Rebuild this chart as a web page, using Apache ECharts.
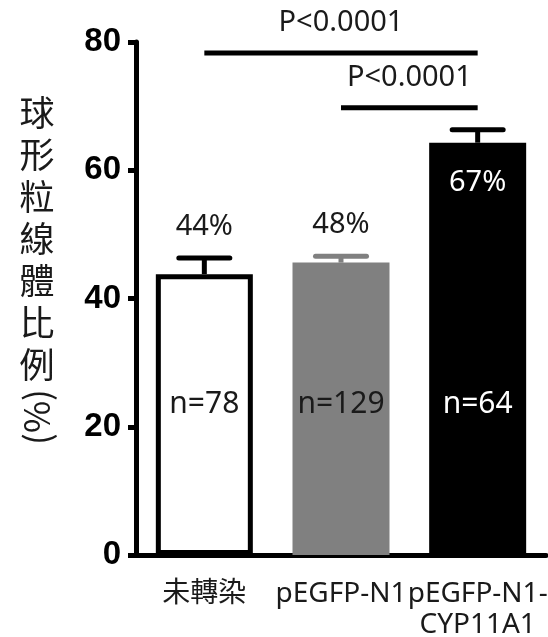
<!DOCTYPE html>
<html>
<head>
<meta charset="utf-8">
<script src="https://cdn.jsdelivr.net/npm/echarts@6/dist/echarts.min.js"></script>
<style>
  html, body { margin: 0; padding: 0; background: #fff; }
  #main { width: 548px; height: 637px; }
</style>
</head>
<body>
<div id="main"></div>
<script>
var categories = ['未轉染', 'pEGFP-N1', 'pEGFP-N1-\nCYP11A1'];
var means = [43.8, 45.6, 64.3];
var errors = [2.5, 1.0, 2.0];
var pctLabels = ['44%', '48%', '67%'];
var nLabels = ['n=78', 'n=129', 'n=64'];
// significance brackets: [from category, to category, height]
var brackets = [[0, 2, 78.3], [1, 2, 69.75]];
var pLabels = ['P<0.0001', 'P<0.0001'];

var latin = '"Noto Sans", "Noto Sans CJK TC", sans-serif';
var barColors = ['#ffffff', '#808080', '#000000'];
var errColors = ['#000000', '#808080', '#000000'];
var maxMean = Math.max.apply(null, means);

var chart = echarts.init(document.getElementById('main'));

var option = {
    animation: false,
    backgroundColor: '#fff',
    grid: {
        left: 136,
        right: 2,
        top: 42,
        bottom: 82,
        outerBoundsMode: 'none'
    },
    graphic: [
        {
            type: 'text',
            x: 37,
            y: 92,
            style: {
                text: '球\n形\n粒\n線\n體\n比\n例',
                font: '35px "Noto Sans CJK TC"',
                lineHeight: 42,
                align: 'center',
                fill: '#1a1a1a'
            }
        },
        {
            type: 'text',
            x: 37,
            y: 417,
            rotation: Math.PI / 2,
            style: {
                text: '(%)',
                font: '35px "Noto Sans CJK TC"',
                align: 'center',
                verticalAlign: 'middle',
                fill: '#1a1a1a'
            }
        }
    ],
    xAxis: {
        type: 'category',
        data: categories,
        axisLine: {lineStyle: {color: '#000', width: 5}},
        axisTick: {
            alignWithLabel: true,
            length: 9,
            lineStyle: {color: '#000', width: 4}
        },
        axisLabel: {
            interval: 0,
            margin: 24,
            fontSize: 28,
            lineHeight: 31,
            color: '#1a1a1a',
            fontFamily: latin
        }
    },
    yAxis: {
        type: 'value',
        min: 0,
        max: 80,
        interval: 20,
        axisLine: {show: true, lineStyle: {color: '#000', width: 5}},
        axisTick: {show: true, length: 8, lineStyle: {color: '#000', width: 5}},
        splitLine: {show: false},
        axisLabel: {
            margin: 15,
            fontSize: 33,
            fontWeight: 'bold',
            color: '#000',
            fontFamily: '"Liberation Sans", Arial, sans-serif'
        }
    },
    series: [
        {
            type: 'bar',
            barWidth: 97,
            data: means.map(function (v, i) {
                return {
                    value: v,
                    itemStyle: i === 0
                        ? {color: barColors[i], borderColor: '#000', borderWidth: 5}
                        : {color: barColors[i]},
                    label: {color: i === 2 ? '#fff' : '#1a1a1a'}
                };
            }),
            label: {
                show: true,
                position: 'insideBottom',
                distance: 136,
                fontSize: 30,
                fontFamily: latin,
                formatter: function (p) { return nLabels[p.dataIndex]; }
            }
        },
        {
            // error bars + percentage labels
            type: 'custom',
            data: means.map(function (v, i) { return [i, v, v + errors[i]]; }),
            renderItem: function (params, api) {
                var i = api.value(0);
                var base = api.coord([i, api.value(1)]);
                var top = api.coord([i, api.value(2)]);
                var col = errColors[i];
                var inside = api.value(1) === maxMean;
                return {
                    type: 'group',
                    children: [
                        {
                            type: 'line',
                            shape: {x1: base[0], y1: base[1], x2: top[0], y2: top[1]},
                            style: {stroke: col, lineWidth: 5}
                        },
                        {
                            type: 'line',
                            shape: {x1: top[0] - 25.5, y1: top[1], x2: top[0] + 25.5, y2: top[1]},
                            style: {stroke: col, lineWidth: 5, lineCap: 'round'}
                        },
                        {
                            type: 'text',
                            x: base[0],
                            y: inside ? base[1] + 40 : top[1] - 31,
                            style: {
                                text: pctLabels[i],
                                font: '29px ' + latin,
                                align: 'center',
                                verticalAlign: 'middle',
                                fill: inside ? '#fff' : '#1a1a1a'
                            }
                        }
                    ]
                };
            },
            z: 3
        },
        {
            // significance brackets
            type: 'custom',
            data: brackets,
            renderItem: function (params, api) {
                var a = api.coord([api.value(0), api.value(2)]);
                var b = api.coord([api.value(1), api.value(2)]);
                return {
                    type: 'group',
                    children: [
                        {
                            type: 'line',
                            shape: {x1: a[0], y1: a[1], x2: b[0], y2: b[1]},
                            style: {stroke: '#000', lineWidth: 5}
                        },
                        {
                            type: 'text',
                            x: (a[0] + b[0]) / 2,
                            y: a[1] - 30,
                            style: {
                                text: pLabels[params.dataIndex],
                                font: '29px ' + latin,
                                align: 'center',
                                verticalAlign: 'middle',
                                fill: '#1a1a1a'
                            }
                        }
                    ]
                };
            },
            z: 3
        }
    ]
};
chart.setOption(option);
</script>
</body>
</html>
